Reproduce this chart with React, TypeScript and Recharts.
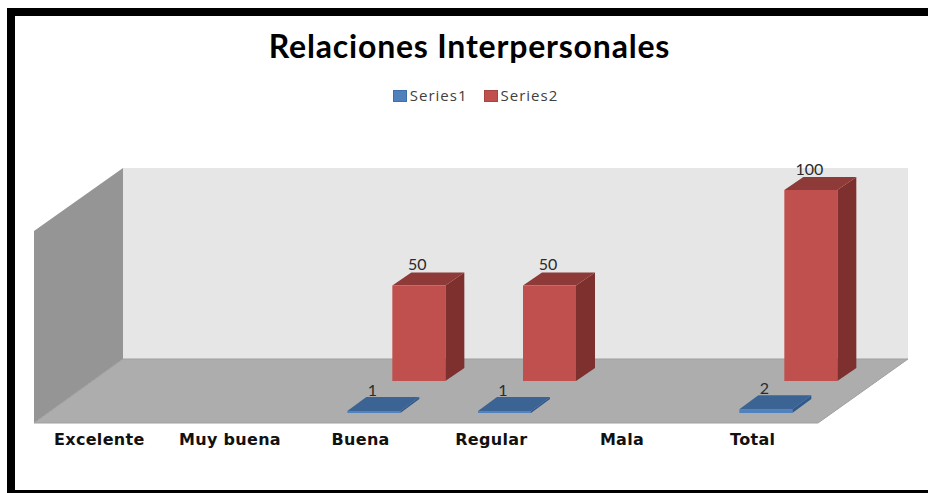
import React from 'react';
import { BarChart, Bar, XAxis, YAxis, Legend, LabelList } from 'recharts';

const categories = ['Excelente', 'Muy buena', 'Buena', 'Regular', 'Mala', 'Total'];
const series1 = [null, null, 1, 1, null, 2];
const series2 = [null, null, 50, 50, null, 100];

const chartData = categories.map((name, i) => ({
  name,
  Series1: series1[i],
  Series2: series2[i],
}));

// Desplazamiento de cada fila dentro de la profundidad del piso
const blueRow = { dx: 13, dy: -10, depthX: 19, depthY: 14, front: '#4f81bd', side: '#2f5a8c', top: '#3b6393' };
const redRow = { dx: 58, dy: -42, depthX: 19, depthY: 13, front: '#c0504d', side: '#7d302e', top: '#8e3a38' };

const Bar3D = (row: typeof blueRow) => (props: any) => {
  const { x, y, width, height } = props;
  if (!height && height !== 0) return null;
  const left = x + row.dx;
  const right = left + width;
  const top = y + row.dy;
  const bottom = top + height;
  return (
    <g>
      <polygon
        points={`${right},${top} ${right + row.depthX},${top - row.depthY} ${right + row.depthX},${bottom - row.depthY} ${right},${bottom}`}
        fill={row.side}
      />
      <polygon
        points={`${left},${top} ${left + row.depthX},${top - row.depthY} ${right + row.depthX},${top - row.depthY} ${right},${top}`}
        fill={row.top}
      />
      <rect x={left} y={top} width={width} height={height} fill={row.front} />
    </g>
  );
};

const BarValue = (row: typeof blueRow) => (props: any) => {
  const { x, y, width, value } = props;
  if (value === null || value === undefined) return null;
  return (
    <text
      x={x + row.dx + width / 2 - 1.5}
      y={y + row.dy - 21}
      dy="0.36em"
      textAnchor="middle"
      fontFamily="Lato"
      fontSize={16}
      fill="#2b2b2b"
    >
      {value}
    </text>
  );
};

const LegendContent = ({ payload }: any) => (
  <div style={{ display: 'flex', justifyContent: 'center', gap: 16, paddingLeft: 23, fontFamily: 'Open Sans', fontSize: 15, color: '#404040', letterSpacing: 1, lineHeight: '18px' }}>
    {(payload || []).map((item: any) => (
      <div key={item.value} style={{ display: 'flex', alignItems: 'center', gap: 3 }}>
        <span style={{ width: 12, height: 10, marginTop: 2, background: item.color, border: `1px solid ${item.color === '#4f81bd' ? '#3f6fa8' : '#a84442'}`, display: 'inline-block' }} />
        <span>{item.value}</span>
      </div>
    ))}
  </div>
);

export default function App() {
  return (
    <div style={{ position: 'absolute', left: 0, top: 0, width: 928, height: 493, overflow: 'hidden', background: '#fff' }}>
      <div
        style={{
          position: 'absolute',
          left: 7,
          top: 8,
          width: 921,
          height: 485,
          boxSizing: 'border-box',
          borderLeft: '8px solid #000',
          borderTop: '8px solid #000',
          borderBottom: '3px solid #000',
        }}
      />
      <div style={{ position: 'absolute', left: 0, top: 0 }}>
        <BarChart
          width={928}
          height={493}
          data={chartData}
          margin={{ top: 214, right: 110, bottom: 40, left: 34 }}
          barSize={53}
          barGap={-53}
        >
          {/* Paredes y piso */}
          <polygon points="123,168 908,168 908,359 123,359" fill="#e6e6e6" />
          <polygon points="34,231 123,168 123,359 34,423" fill="#959595" />
          <polygon points="34,423 123,359 908,359 818,423" fill="#adadad" stroke="#a0a0a0" strokeWidth={1} />
          <text x={469.5} y={46} dy="0.36em" textAnchor="middle" fontFamily="Lato" fontWeight={700} fontSize={32} letterSpacing={0.8} fill="#000">
            Relaciones Interpersonales
          </text>
          <XAxis
            dataKey="name"
            axisLine={false}
            tickLine={false}
            interval={0}
            height={30}
            tick={{ fontFamily: 'DejaVu Sans', fontWeight: 700, fontSize: 16, fill: '#111', letterSpacing: 0.3 }}
            tickMargin={5}
          />
          <YAxis hide domain={[0, 100]} />
          <Legend
            verticalAlign="top"
            content={<LegendContent />}
            wrapperStyle={{ top: 86, left: 0, width: 928 }}
          />
          <Bar dataKey="Series2" fill="#c0504d" isAnimationActive={false} shape={Bar3D(redRow)}>
            <LabelList dataKey="Series2" content={BarValue(redRow)} />
          </Bar>
          <Bar dataKey="Series1" fill="#4f81bd" isAnimationActive={false} shape={Bar3D(blueRow)}>
            <LabelList dataKey="Series1" content={BarValue(blueRow)} />
          </Bar>
        </BarChart>
      </div>
    </div>
  );
}
